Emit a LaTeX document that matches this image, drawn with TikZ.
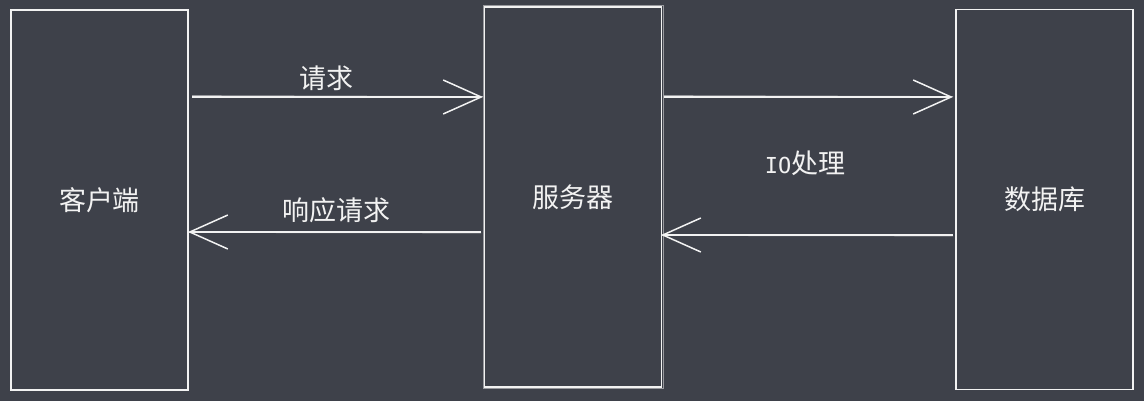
\documentclass[tikz,border=0pt]{standalone}
\usepackage{fontspec}
\setmainfont{Noto Sans CJK SC}
\newfontfamily\iofont{DejaVu Sans Mono}
\usetikzlibrary{arrows.meta}
\definecolor{bg}{RGB}{62,65,74}
\definecolor{ink}{RGB}{242,242,242}
\tikzset{
  box/.style={draw=ink, line width=1.8pt, minimum width=177pt, minimum height=380pt, inner sep=0pt},
  lbl/.style={text=ink, font=\fontsize{27}{30}\selectfont, inner sep=0pt},
  arr/.style={draw=ink, line width=1.8pt, -{Straight Barb[length=38pt,width=34pt,line width=1.5pt]}},
  ghost/.style={draw=ink, line width=0.7pt, opacity=0.5},
}
\begin{document}
\begin{tikzpicture}[x=1pt,y=-1pt]
\fill[bg] (0,0) rectangle (1144,401);
\useasboundingbox (0,0) rectangle (1144,401);
\node[box] (c) at (99.5,200) {};
\node[box] (s) at (573,197) {};
\node[box] (d) at (1044.5,199.5) {};
\draw[ghost] ([shift={(1,-0.5)}]c.south west) rectangle ([shift={(-0.5,1)}]c.north east);
\draw[ghost] ([shift={(-0.5,0.5)}]s.south west) rectangle ([shift={(1,-1)}]s.north east);
\draw[ghost] ([shift={(0.5,-1)}]d.south west) rectangle ([shift={(-1,0.5)}]d.north east);
\node[lbl] at (c.center) {客户端};
\node[lbl] at (s.center) {服务器};
\node[lbl] at (d.center) {数据库};
\coordinate (a1s) at (192,97);
\coordinate (a1e) at (483,97);
\coordinate (a2s) at (481,232);
\coordinate (a2e) at (188,232);
\coordinate (a3s) at (664,97);
\coordinate (a3e) at (953,97);
\coordinate (a4s) at (953,235);
\coordinate (a4e) at (661,235);
\draw[arr] (a1s) -- (a1e);
\draw[ghost] ([yshift=1.5pt]a1s) -- ([yshift=0.5pt]a1e);
\draw[arr] (a2s) -- (a2e);
\draw[ghost] ([yshift=-1pt]a2s) -- ([yshift=-0.5pt]a2e);
\draw[arr] (a3s) -- (a3e);
\draw[ghost] ([yshift=1.5pt]a3s) -- ([yshift=0.5pt]a3e);
\draw[arr] (a4s) -- (a4e);
\draw[ghost] ([yshift=-1pt]a4s) -- ([yshift=-0.5pt]a4e);
\node[lbl] (l1) at (326,78) {请求};
\node[lbl] (l2) at (336,210) {响应请求};
\node[lbl] (l3) at (805,163) {{\iofont\fontsize{22}{26}\selectfont IO}处理};
\end{tikzpicture}
\end{document}
